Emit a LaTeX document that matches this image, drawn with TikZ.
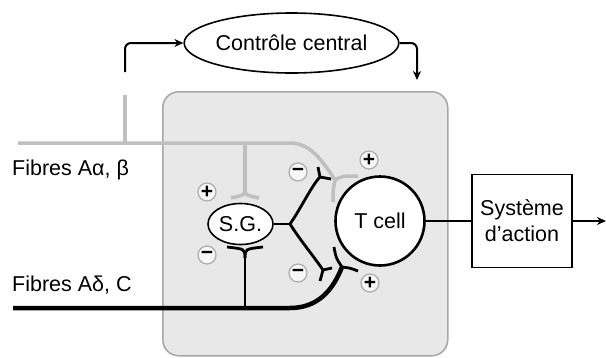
\documentclass[tikz,border=0pt]{standalone}
\usepackage{fontspec}
\setmainfont{Liberation Sans}
\usetikzlibrary{shapes.geometric,arrows.meta}
\begin{document}
\begin{tikzpicture}[x=1pt,y=-1pt,
  lbl/.style={font=\fontsize{21.5}{26}\selectfont, inner sep=0pt},
  gfib/.style={draw=gray!50, line width=3.5pt},
  bfib/.style={draw=black, line width=2.8pt},
  sign/.style={circle, draw=gray!65, line width=1.2pt, fill=gray!6, minimum size=18pt, inner sep=0pt, font=\fontsize{21}{21}\selectfont\bfseries},
  arr/.style={-{Stealth[length=9pt,width=8pt]}, line width=2pt},
]
\useasboundingbox (0,0) rectangle (606,357);
% dorsal horn box
\node[draw=gray!70, fill=gray!18, rounded corners=16pt, line width=1.5pt,
      minimum width=285pt, minimum height=264pt, anchor=north west] (box) at (162,91) {};
% central control
\node[ellipse, draw, line width=1.6pt, fill=white, minimum width=207pt, minimum height=60pt, lbl] (ctrl) at (291.5,43) {Contrôle central};
\coordinate (up) at (125,72);
\coordinate (cin) at (417,80);
\draw[arr, rounded corners=6pt] (up) |- (ctrl.west);
\draw[arr, rounded corners=6pt] (ctrl.east) -| (cin);
% gray fibres
\coordinate (ga0) at (18,143);
\coordinate (gup) at (125,95);
\coordinate (gj) at (125,143);
\coordinate (gf) at (335,180);
\coordinate (gy) at (245,188);
\draw[gfib] (gj) -- (gup);
\draw[gfib] (ga0) -- (290,143) .. controls (310,143) and (322,160) .. (gf);
\draw[gfib] (gf) .. controls (342,176) .. (358,176);
\draw[gfib] (gf) .. controls (333,190) .. (333,202);
\draw[gfib] (245,143) -- (gy);
\draw[gfib] (gy) .. controls (245,195) .. (231,198);
\draw[gfib] (gy) .. controls (245,195) .. (259,198);
% nodes
\node[ellipse, draw, line width=1.6pt, fill=white, minimum width=65pt, minimum height=41pt, lbl] (sg) at (240.5,224) {S.G.};
\node[circle, draw, line width=2.6pt, fill=white, minimum size=89pt, lbl] (tc) at (380,221) {T cell};
\node[draw, line width=1.6pt, fill=white, minimum width=100pt, minimum height=93pt, align=center, lbl] (sys) at (522,221) {Système\\d'action};
\coordinate (out) at (606,221);
\draw[bfib] (tc.east) -- (sys.west);
\draw[arr] (sys.east) -- (out);
% black fibres
\coordinate (ba0) at (13,308);
\coordinate (bf) at (342,267);
\coordinate (by) at (245,258);
\draw[black, line width=4.5pt] (ba0) -- (290,308) .. controls (318,308) and (333,290) .. (bf);
\draw[bfib] (bf) .. controls (336,258) .. (334,247);
\draw[bfib] (bf) .. controls (350,268) .. (358,271);
\draw[bfib] (245,308) -- (by);
\draw[bfib] (by) .. controls (245,249) .. (227,247);
\draw[bfib] (by) .. controls (245,249) .. (263,247);
% S.G. outputs
\coordinate (sj) at (290,224);
\coordinate (su) at (320,177);
\coordinate (sl) at (323,270);
\draw[bfib] (sg.east) -- (sj);
\draw[bfib] (sj) .. controls (300,210) and (312,185) .. (su);
\draw[bfib] (su) -- (318,167);
\draw[bfib] (su) -- (331,179);
\draw[bfib] (sj) .. controls (300,240) and (315,258) .. (sl);
\draw[bfib] (sl) -- (332,268);
\draw[bfib] (sl) -- (320,281);
% signs
\node[sign] (s1) at (207,192) {+};
\node[sign] (s2) at (207,255) {−};
\node[sign] (s3) at (298,172) {−};
\node[sign] (s4) at (369,160) {+};
\node[sign] (s5) at (298,273) {−};
\node[sign] (s6) at (370,283) {+};
% labels
\node[lbl, anchor=base west] (la) at (12,175) {Fibres Aα, β};
\node[lbl, anchor=base west] (lb) at (12,291) {Fibres Aδ, C};
\end{tikzpicture}
\end{document}
